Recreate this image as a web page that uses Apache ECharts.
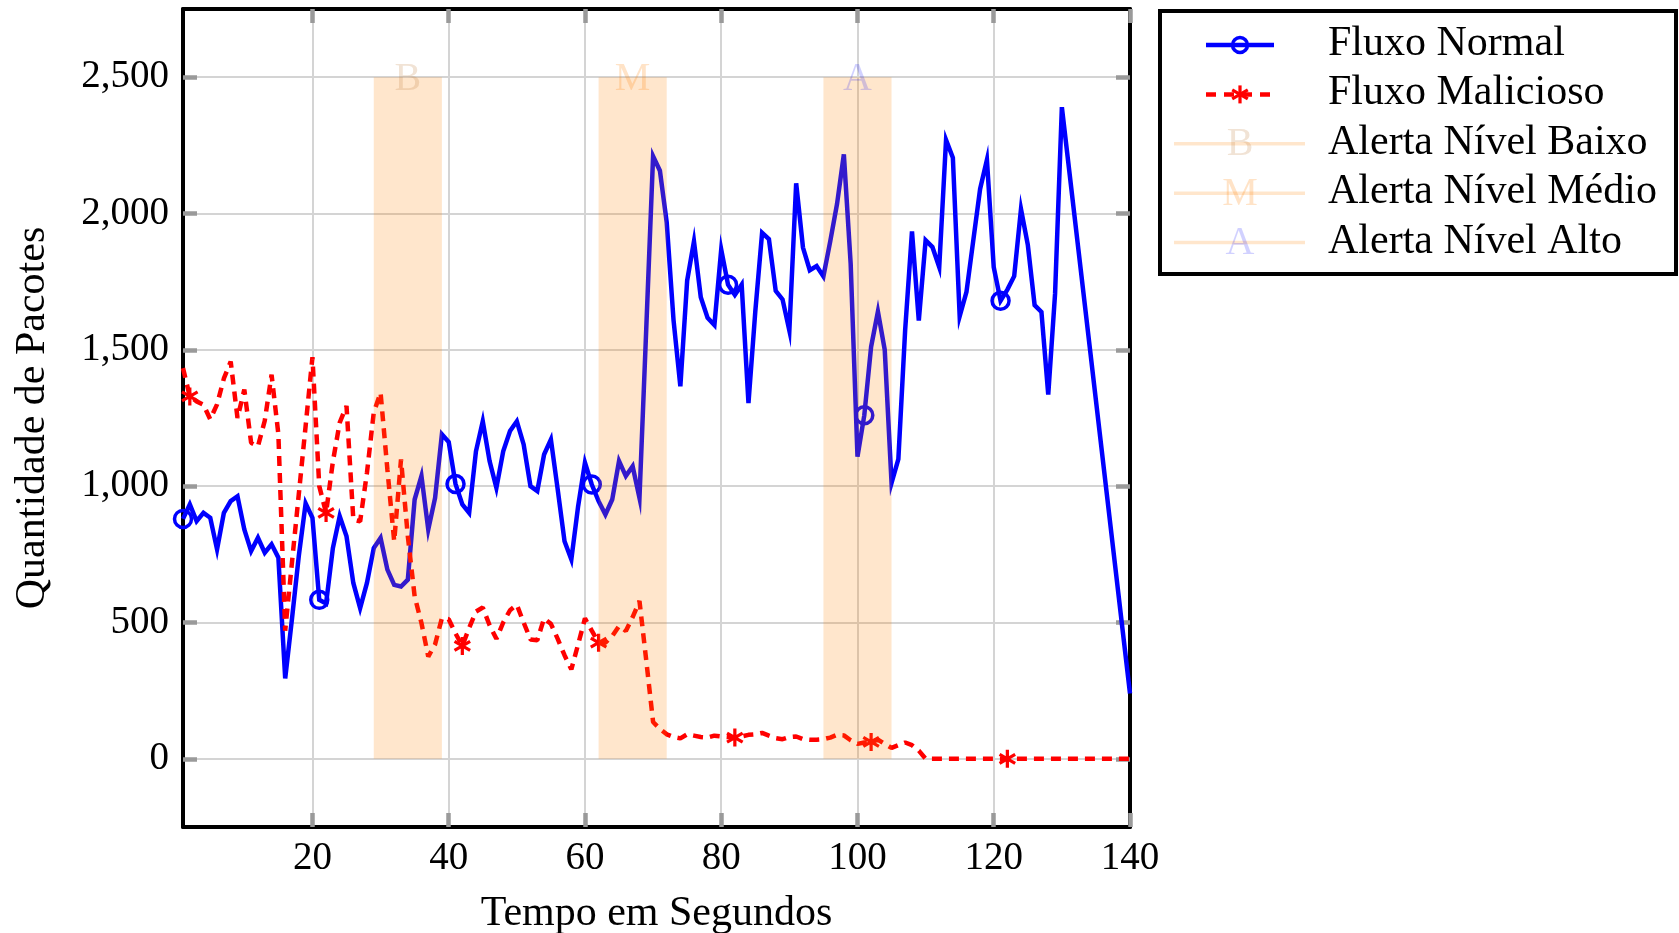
<!DOCTYPE html>
<html><head><meta charset="utf-8">
<script src="https://cdn.jsdelivr.net/npm/echarts@6/dist/echarts.min.js"></script>
<style>html,body{margin:0;padding:0;background:#fff}#c{width:1679px;height:933px}</style>
</head><body><div id="c"></div>
<script>
// ---- data ----
const timeSeconds = [1,2,3,4,5,6,7,8,9,10,11,12,13,14,15,16,17,18,19,20,
  21,22,23,24,25,26,27,28,29,30,31,32,33,34,35,36,37,38,39,40,
  41,42,43,44,45,46,47,48,49,50,51,52,53,54,55,56,57,58,59,60,
  61,62,63,64,65,66,67,68,69,70,71,72,73,74,75,76,77,78,79,80,
  81,82,83,84,85,86,87,88,89,90,91,92,93,94,95,96,97,98,99,100,
  101,102,103,104,105,106,107,108,109,110,111,112,113,114,115,116,117,118,119,120,
  121,122,123,124,125,126,127,128,129,130,140];
const normalFlow = [880,933,872,902,884,768,902,945,963,841,762,811,756,787,738,295,515,745,937,884,
  583,570,773,890,816,645,553,645,773,810,694,638,632,657,951,1037,841,957,1190,1162,
  1008,933,902,1128,1238,1092,994,1128,1202,1238,1153,1000,982,1116,1171,988,798,731,927,1086,
  1006,945,896,951,1092,1037,1073,957,1580,2210,2157,1967,1609,1366,1754,1898,1693,1617,1591,1868,
  1739,1701,1739,1305,1640,1929,1906,1716,1685,1571,2111,1875,1792,1807,1769,1898,2035,2217,1815,1108,
  1260,1511,1640,1500,1012,1099,1574,1934,1607,1902,1877,1803,2270,2205,1623,1713,1902,2090,2197,1803,
  1680,1721,1770,2016,1885,1664,1639,1336,1705,2390,240];
const maliciousFlow = [1433,1329,1311,1299,1245,1300,1395,1457,1250,1354,1159,1146,1240,1409,1190,470,722,971,1221,1473,
  1000,902,1090,1233,1294,877,871,1049,1270,1343,1061,798,1098,816,596,498,375,420,516,512,
  460,414,480,540,555,490,440,500,545,565,500,438,435,515,495,440,380,328,420,515,
  470,426,426,450,487,469,520,579,360,135,110,90,80,75,90,85,80,78,85,82,
  80,78,82,88,90,95,85,76,72,80,82,72,70,70,72,78,88,86,68,55,
  60,62,70,55,40,50,60,50,30,0,0,0,0,0,0,0,0,0,0,0,
  0,0,0,0,0,0,0,0,0,0,0];
const bandStart = [29, 62, 95];
const bandEnd = [39, 72, 105];
const bandLow = [0, 0, 0];
const bandHigh = [2500, 2500, 2500];
const bandLetters = ['B', 'M', 'A'];
const xTicks = [20, 40, 60, 80, 100, 120, 140];
const yTicks = [0, 500, 1000, 1500, 2000, 2500];
const seriesNames = ['Fluxo Normal', 'Fluxo Malicioso', 'Alerta Nível Baixo', 'Alerta Nível Médio', 'Alerta Nível Alto'];

// ---- style ----
const FONT = '"Liberation Serif", "DejaVu Serif", serif';
const BLUE = '#0000ff', RED = '#ff0000';
const BAND_FILL = 'rgba(255,128,0,0.2)';
const LETTER_COLORS = ['rgba(191,128,64,0.22)', 'rgba(255,128,0,0.22)', 'rgba(0,0,255,0.18)'];
const AST_POLYS = [
  [[41,0],[59,0],[59,100],[41,100]],
  [[2.2,32.8],[11.2,17.2],[97.8,67.2],[88.8,82.8]],
  [[11.2,82.8],[2.2,67.2],[88.8,17.2],[97.8,32.8]]
];
const ASTERISK = 'path://' + AST_POLYS.map(p => 'M' + p.map(q => q[0] + ' ' + q[1]).join('L') + 'Z').join(' ');
const fmt = v => String(v).replace(/\B(?=(\d{3})+(?!\d))/g, ',');

const chart = echarts.init(document.getElementById('c'), null, {renderer: 'canvas'});

const gridTickStyle = {show: true, inside: true, length: 14, lineStyle: {color: '#9a9a9a', width: 4.5}};
const frameLine = {show: true, onZero: false, lineStyle: {color: '#000', width: 4}};

// legend (graphic)
const L = {x0: 1160, y0: 11, x1: 1676, y1: 274, iconL: 1206, iconR: 1274, iconC: 1240, textX: 1328, row0: 45, step: 49.4};
const legendEls = [];
legendEls.push({type: 'rect', shape: {x: L.x0, y: L.y0, width: L.x1 - L.x0, height: L.y1 - L.y0},
  style: {fill: '#fff', stroke: '#000', lineWidth: 4}, z: 10});
seriesNames.forEach((name, i) => {
  const y = L.row0 + i * L.step;
  legendEls.push({type: 'text', style: {text: name, x: L.textX, y: y - 1, font: '42px ' + FONT, fill: '#000', verticalAlign: 'middle', align: 'left'}, z: 11});
  if (i === 0) {
    legendEls.push({type: 'line', shape: {x1: L.iconL, y1: y, x2: L.iconR, y2: y}, style: {stroke: BLUE, lineWidth: 4.5}, z: 11});
    legendEls.push({type: 'circle', shape: {cx: L.iconC, cy: y, r: 7.5}, style: {fill: 'rgba(0,0,0,0)', stroke: BLUE, lineWidth: 3.5}, z: 12});
  } else if (i === 1) {
    legendEls.push({type: 'line', shape: {x1: L.iconL, y1: y, x2: L.iconR, y2: y}, style: {stroke: RED, lineWidth: 4.5, lineDash: [10, 8]}, z: 11});
    AST_POLYS.forEach(poly => {
      legendEls.push({type: 'polygon', shape: {points: poly.map(q => [L.iconC + (q[0] - 50) * 0.18, y + (q[1] - 50) * 0.18])}, style: {fill: RED}, z: 12});
    });
  } else {
    legendEls.push({type: 'line', shape: {x1: 1174, y1: y, x2: 1305, y2: y}, style: {stroke: BAND_FILL, lineWidth: 3.5}, z: 11});
    legendEls.push({type: 'text', style: {text: bandLetters[i - 2], x: L.iconC, y: y + 1, font: '40px ' + FONT, fill: LETTER_COLORS[i - 2], align: 'center', verticalAlign: 'middle'}, z: 12});
  }
});

const option = {
  animation: false,
  backgroundColor: '#fff',
  textStyle: {fontFamily: FONT},
  grid: {left: 183, top: 9, width: 947, height: 818, containLabel: false, outerBoundsMode: 'none'},
  xAxis: [{
    type: 'value', min: 1, max: 140, position: 'bottom',
    name: 'Tempo em Segundos', nameLocation: 'middle', nameGap: 66,
    nameTextStyle: {fontFamily: FONT, fontSize: 42, color: '#000'},
    axisLine: frameLine,
    axisTick: Object.assign({customValues: xTicks}, gridTickStyle),
    axisLabel: {customValues: xTicks, fontFamily: FONT, fontSize: 39, color: '#000', margin: 12},
    splitLine: {show: true, lineStyle: {color: '#d4d4d4', width: 2}}
  }, {
    type: 'value', min: 1, max: 140, position: 'top',
    axisLine: frameLine,
    axisTick: Object.assign({customValues: xTicks}, gridTickStyle),
    axisLabel: {show: false}, splitLine: {show: false}
  }],
  yAxis: [{
    type: 'value', min: -250, max: 2750, position: 'left',
    name: 'Quantidade de Pacotes', nameLocation: 'middle', nameGap: 129,
    nameTextStyle: {fontFamily: FONT, fontSize: 42, color: '#000'},
    axisLine: frameLine,
    axisTick: Object.assign({customValues: yTicks}, gridTickStyle),
    axisLabel: {customValues: yTicks, formatter: fmt, fontFamily: FONT, fontSize: 39, color: '#000', margin: 14},
    splitLine: {show: true, lineStyle: {color: '#d4d4d4', width: 2}}
  }, {
    type: 'value', min: -250, max: 2750, position: 'right',
    axisLine: frameLine,
    axisTick: Object.assign({customValues: yTicks}, gridTickStyle),
    axisLabel: {show: false}, splitLine: {show: false}
  }],
  series: [{
    name: seriesNames[0], type: 'line', z: 3,
    data: normalFlow.map((v, i) => [timeSeconds[i], v]),
    lineStyle: {color: BLUE, width: 4.5, join: 'miter'},
    showSymbol: true, showAllSymbol: true,
    symbol: (val, p) => (p.dataIndex % 20 === 0 ? 'circle' : 'none'),
    symbolSize: 17,
    itemStyle: {color: 'rgba(0,0,0,0)', borderColor: BLUE, borderWidth: 3.5},
    silent: true
  }, {
    name: seriesNames[1], type: 'line', z: 3,
    data: maliciousFlow.map((v, i) => [timeSeconds[i], v]),
    lineStyle: {color: RED, width: 4.5, type: [10, 7]},
    showSymbol: true, showAllSymbol: true,
    symbol: (val, p) => (p.dataIndex % 20 === 1 ? ASTERISK : 'none'),
    symbolSize: 18, symbolKeepAspect: true,
    itemStyle: {color: RED, borderWidth: 0},
    silent: true
  }, {
    name: 'bands', type: 'custom', z: 5, silent: true, clip: false,
    data: bandStart.map((s, i) => [s, bandEnd[i], bandLow[i], bandHigh[i], i]),
    encode: {x: [0, 1], y: [2, 3]},
    renderItem: (params, api) => {
      const i = api.value(4);
      const p0 = api.coord([api.value(0), api.value(3)]);
      const p1 = api.coord([api.value(1), api.value(2)]);
      return {type: 'group', children: [
        {type: 'rect', shape: {x: p0[0], y: p0[1], width: p1[0] - p0[0], height: p1[1] - p0[1]}, style: {fill: BAND_FILL}},
        {type: 'text', style: {text: bandLetters[i], x: (p0[0] + p1[0]) / 2, y: p0[1] + 2, align: 'center', verticalAlign: 'middle', font: '40px ' + FONT, fill: LETTER_COLORS[i]}}
      ]};
    }
  }],
  graphic: legendEls
};
chart.setOption(option);
</script>
</body></html>
